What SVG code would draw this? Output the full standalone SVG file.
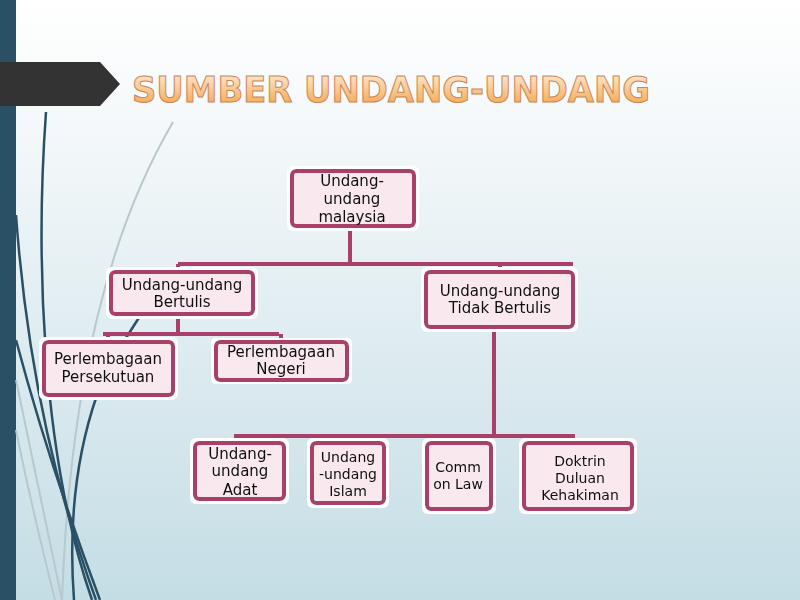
<svg xmlns="http://www.w3.org/2000/svg" width="800" height="600" viewBox="0 0 800 600">
<defs>
<linearGradient id="bg" x1="0" y1="0" x2="0" y2="1">
<stop offset="0" stop-color="#ffffff"/>
<stop offset="0.25" stop-color="#f2f7f9"/>
<stop offset="1" stop-color="#c4dde5"/>
</linearGradient>
<linearGradient id="tg" x1="0" y1="0" x2="0" y2="1">
<stop offset="0" stop-color="#fdf0e4"/>
<stop offset="0.5" stop-color="#f9c890"/>
<stop offset="1" stop-color="#f2a040"/>
</linearGradient>
<filter id="glow" x="-10%" y="-10%" width="120%" height="120%">
<feMorphology in="SourceAlpha" operator="dilate" radius="3" result="d"/>
<feFlood flood-color="#ffffff"/>
<feComposite in2="d" operator="in" result="w"/>
<feMerge><feMergeNode in="w"/><feMergeNode in="SourceGraphic"/></feMerge>
</filter>
</defs>
<style>
.box{fill:#f9e9ee;stroke:#a8406a;stroke-width:4}
.t{font-family:"DejaVu Sans",Verdana,sans-serif;font-size:15px;fill:#111;text-anchor:middle}
.s{font-size:14px}
.c{stroke:#a8406a;stroke-width:4;fill:none}
.dk{stroke:#2a5066;fill:none;stroke-width:2.5}
.lt{stroke:#b8c8cf;fill:none;stroke-width:2}
</style>
<rect width="800" height="600" fill="url(#bg)"/>
<rect x="0" y="0" width="16" height="600" fill="#2a5066"/>
<g id="curves">
<path class="lt" d="M173,122 C110,230 70,380 62,600"/>
<path class="lt" d="M16,430 C30,500 45,560 55,600"/>
<path class="lt" d="M16,380 C35,470 50,540 62,600"/>
<path class="dk" d="M46,112 C36,250 40,450 92,600"/>
<path class="dk" d="M16,215 C28,380 60,500 96,600"/>
<path class="dk" d="M16,340 C40,430 70,520 100,600"/>
<path class="dk" d="M97,395 C78,450 68,520 74,600"/>
<path class="dk" d="M140,316 L126,338"/>
</g>
<path d="M0,62 L100,62 L120,84 L100,106 L0,106 Z" fill="#333333"/>
<text x="132" y="102" font-family="'DejaVu Sans',Verdana,sans-serif" font-size="36" font-weight="bold" textLength="518" lengthAdjust="spacingAndGlyphs" fill="url(#tg)" stroke="#c9865a" stroke-width="1">SUMBER UNDANG-UNDANG</text>
<g id="connectors">
<path class="c" d="M350,226 V264 M178,264 H573 M178,264 V272 M500,264 V272"/>
<path class="c" d="M178,314 V334 M103,334 H279 M108,334 V342 M281,334 V342"/>
<path class="c" d="M494,327 V436 M234,436 H575"/>
</g>
<g id="n-malaysia" filter="url(#glow)">
<rect class="box" x="292" y="171" width="122" height="55" rx="4"/>
<text class="t" x="352" y="186">Undang-</text>
<text class="t" x="352" y="204">undang</text>
<text class="t" x="352" y="222">malaysia</text>
</g>
<g id="n-bertulis" filter="url(#glow)">
<rect class="box" x="111" y="272" width="142" height="42" rx="4"/>
<text class="t" x="182" y="290">Undang-undang</text>
<text class="t" x="182" y="307">Bertulis</text>
</g>
<g id="n-tidak" filter="url(#glow)">
<rect class="box" x="426" y="272" width="147" height="55" rx="4"/>
<text class="t" x="500" y="296">Undang-undang</text>
<text class="t" x="500" y="313">Tidak Bertulis</text>
</g>
<g id="n-persekutuan" filter="url(#glow)">
<rect class="box" x="44" y="342" width="129" height="53" rx="4"/>
<text class="t" x="108" y="364">Perlembagaan</text>
<text class="t" x="108" y="382">Persekutuan</text>
</g>
<g id="n-negeri" filter="url(#glow)">
<rect class="box" x="216" y="342" width="131" height="38" rx="4"/>
<text class="t" x="281" y="357">Perlembagaan</text>
<text class="t" x="281" y="374">Negeri</text>
</g>
<g id="n-adat" filter="url(#glow)">
<rect class="box" x="195" y="443" width="89" height="56" rx="4"/>
<text class="t" x="240" y="459">Undang-</text>
<text class="t" x="240" y="476">undang</text>
<text class="t" x="240" y="495">Adat</text>
</g>
<g id="n-islam" filter="url(#glow)">
<rect class="box" x="312" y="443" width="72" height="60" rx="4"/>
<text class="t s" x="348" y="462">Undang</text>
<text class="t s" x="348" y="479">-undang</text>
<text class="t s" x="348" y="496">Islam</text>
</g>
<g id="n-common" filter="url(#glow)">
<rect class="box" x="427" y="443" width="64" height="66" rx="4"/>
<text class="t s" x="458" y="472">Comm</text>
<text class="t s" x="458" y="489">on Law</text>
</g>
<g id="n-doktrin" filter="url(#glow)">
<rect class="box" x="524" y="443" width="108" height="66" rx="4"/>
<text class="t s" x="580" y="466">Doktrin</text>
<text class="t s" x="580" y="483">Duluan</text>
<text class="t s" x="580" y="500">Kehakiman</text>
</g>
</svg>
